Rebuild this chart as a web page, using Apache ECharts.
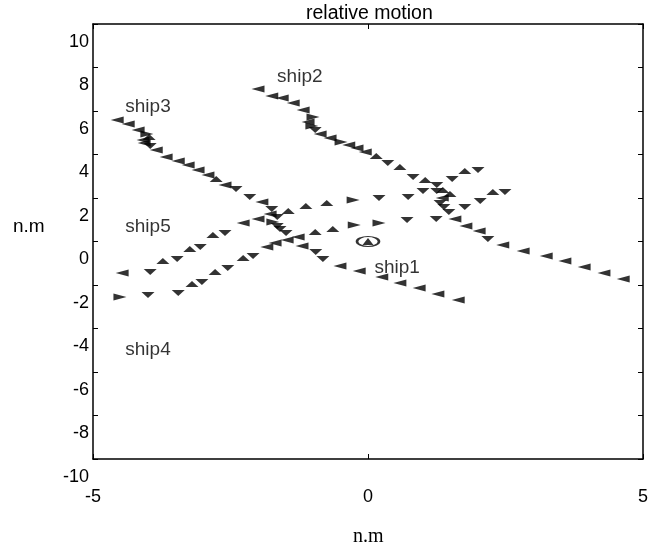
<!DOCTYPE html>
<html>
<head>
<meta charset="utf-8">
<script src="https://cdn.jsdelivr.net/npm/echarts@6/dist/echarts.min.js"></script>
<style>
  html, body { margin: 0; padding: 0; background: #fff; }
  #chart { width: 661px; height: 548px; }
</style>
</head>
<body>
<div id="chart"></div>
<script>
// Relative-motion plot: successive positions of each ship (n.m) with its heading
// (degrees: 0 = up, 90 = right, 180 = down, 270 = left).

const ship2X = [-2.00,-1.75,-1.56,-1.36,-1.18,-1.00,-1.09,-1.02,-0.96,-0.87,-0.69,-0.49,-0.35,-0.20,-0.05,0.15,0.36,0.58,0.82,1.04,1.25,1.36,1.49,1.35,1.31,1.38,1.47,1.58,1.78,2.02,2.18,2.45,2.82,3.24,3.58,3.93,4.29,4.64];
const ship2Y = [7.01,6.69,6.60,6.37,6.05,5.72,5.49,5.31,5.13,4.94,4.76,4.57,4.44,4.30,4.12,3.93,3.61,3.43,2.97,2.83,2.60,2.37,2.18,2.00,1.77,1.59,1.36,1.03,0.71,0.48,0.11,-0.16,-0.44,-0.67,-0.90,-1.17,-1.45,-1.72];
const ship2Hdg = [270,270,270,270,270,90,270,90,180,270,270,90,270,270,270,0,180,0,180,0,180,0,0,270,180,180,180,270,270,270,180,270,270,270,270,270,270,270];

const ship3X = [-4.56,-4.36,-4.18,-4.02,-3.98,-4.09,-4.07,-3.96,-3.85,-3.67,-3.45,-3.27,-3.09,-2.91,-2.76,-2.60,-2.40,-2.15,-1.93,-1.75,-1.45,-1.65,-1.73,-1.65,-1.60,-1.49,-1.20,-0.95,-0.82,-0.51,-0.16,0.25,0.58,0.93,1.27,1.64];
const ship3Y = [5.59,5.40,5.13,4.94,4.80,4.67,4.53,4.39,4.21,3.89,3.70,3.52,3.29,3.06,2.87,2.60,2.41,2.05,1.82,1.49,1.40,1.13,0.90,0.71,0.57,0.39,-0.21,-0.48,-0.80,-1.13,-1.36,-1.63,-1.91,-2.14,-2.41,-2.69];
const ship3Hdg = [270,270,270,90,0,270,270,180,270,270,270,270,270,270,0,270,180,180,270,180,0,180,90,180,180,180,270,180,180,270,270,270,270,270,270,270];

const ship5X = [-4.47,-3.96,-3.73,-3.47,-3.24,-3.05,-2.82,-2.60,-2.27,-2.00,-1.78,-1.13,-0.75,-0.27,0.20,0.73,1.00,1.25,1.53,1.76,2.00];
const ship5Y = [-1.45,-1.40,-0.90,-0.80,-0.34,-0.25,0.30,0.39,0.85,1.03,1.26,1.63,1.77,1.91,2.00,2.05,2.32,2.32,2.87,3.24,3.29];
const ship5Hdg = [270,180,0,180,0,180,0,180,270,270,270,0,0,90,180,180,180,180,180,0,180];

const ship4X = [-4.51,-4.00,-3.45,-3.20,-3.02,-2.78,-2.55,-2.27,-2.09,-1.84,-1.69,-1.47,-1.27,-0.96,-0.64,-0.25,0.20,0.71,1.24,1.76,2.04,2.27,2.49];
const ship4Y = [-2.55,-2.46,-2.37,-1.95,-1.86,-1.40,-1.22,-0.76,-0.67,-0.25,-0.07,0.07,0.21,0.44,0.57,0.76,0.85,0.99,1.03,1.59,1.86,2.28,2.28];
const ship4Hdg = [90,180,180,0,180,0,180,0,180,270,270,270,270,0,0,90,90,180,180,180,180,0,180];

// own ship at the origin
const ship1X = [0];
const ship1Y = [0];

const labelNames = ['ship1', 'ship2', 'ship3', 'ship5', 'ship4'];
const labelX = [0.53, -1.24, -4.00, -4.00, -4.00];
const labelY = [-1.22, 7.56, 6.18, 0.67, -4.99];

const xTicks = [-5, 0, 5];
const yTicks = [-10, -8, -6, -4, -2, 0, 2, 4, 6, 8, 10];

// heading -> arrow-head glyph (flattened triangles)
const GLYPH = {
  0:   { path: 'path://M5,0L10,10L0,10Z', size: [13, 6] },
  180: { path: 'path://M0,0L10,0L5,10Z', size: [13, 6] },
  270: { path: 'path://M0,5L10,0L10,10Z', size: [13, 7] },
  90:  { path: 'path://M10,5L0,0L0,10Z', size: [13, 7] }
};

function track(name, xs, ys, hdg) {
  return {
    name: name,
    type: 'scatter',
    xAxisIndex: 0, yAxisIndex: 0,
    data: xs.map((x, i) => ({
      value: [x, ys[i]],
      symbol: GLYPH[hdg[i]].path,
      symbolSize: GLYPH[hdg[i]].size
    })),
    itemStyle: { color: '#000' },
    silent: true,
    z: 3
  };
}

const FONT = '"Liberation Sans", Arial, sans-serif';

const chart = echarts.init(document.getElementById('chart'), null, { renderer: 'canvas' });

chart.setOption({
  animation: false,
  backgroundColor: '#fff',
  title: {
    text: 'relative motion',
    left: 306, top: 4, padding: 0,
    textStyle: { fontFamily: FONT, fontSize: 19.5, fontWeight: 'normal', color: '#000' }
  },
  grid: { left: 93, right: 18, top: 24, bottom: 89, containLabel: false },
  xAxis: [
    {
      type: 'value', min: xTicks[0], max: xTicks[xTicks.length - 1], interval: 5,
      position: 'bottom',
      axisLine: { show: true, onZero: false, lineStyle: { color: '#000', width: 1.5 } },
      axisTick: { show: true, inside: true, length: 5, lineStyle: { color: '#000' } },
      axisLabel: { show: true, margin: 29, fontFamily: FONT, fontSize: 18, color: '#000' },
      splitLine: { show: false }
    },
    {
      type: 'value', min: xTicks[0], max: xTicks[xTicks.length - 1], interval: 5,
      position: 'top',
      axisLine: { show: true, onZero: false, lineStyle: { color: '#000', width: 1.5 } },
      axisTick: { show: true, inside: true, length: 5, lineStyle: { color: '#000' } },
      axisLabel: { show: false },
      splitLine: { show: false }
    }
  ],
  yAxis: [
    {
      type: 'value', min: yTicks[0], max: yTicks[yTicks.length - 1], interval: 2,
      position: 'left',
      axisLine: { show: true, onZero: false, lineStyle: { color: '#000', width: 1.5 } },
      axisTick: { show: true, inside: true, length: 5, lineStyle: { color: '#000' } },
      axisLabel: {
        show: true, margin: 4, fontFamily: FONT, fontSize: 18, color: '#000',
        verticalAlign: 'top', lineHeight: 18, padding: [9, 0, 0, 0]
      },
      splitLine: { show: false }
    },
    {
      type: 'value', min: yTicks[0], max: yTicks[yTicks.length - 1], interval: 2,
      position: 'right',
      axisLine: { show: true, onZero: false, lineStyle: { color: '#000', width: 1.5 } },
      axisTick: { show: true, inside: true, length: 5, lineStyle: { color: '#000' } },
      axisLabel: { show: false },
      splitLine: { show: false }
    }
  ],
  graphic: [
    {
      type: 'text', left: 13, top: 217,
      style: { text: 'n.m', font: '19px ' + FONT, fill: '#000' }
    },
    {
      type: 'text', left: 353, top: 527,
      style: { text: 'n.m', font: '20px "Liberation Serif", "Times New Roman", serif', fill: '#000' }
    }
  ],
  series: [
    track('ship2', ship2X, ship2Y, ship2Hdg),
    track('ship3', ship3X, ship3Y, ship3Hdg),
    track('ship5', ship5X, ship5Y, ship5Hdg),
    track('ship4', ship4X, ship4Y, ship4Hdg),
    {
      name: 'ship1 ring', type: 'scatter', silent: true, z: 3,
      data: ship1X.map((x, i) => [x, ship1Y[i]]),
      symbol: 'circle', symbolSize: [22, 10],
      itemStyle: { color: 'transparent', borderColor: '#000', borderWidth: 1.8 }
    },
    {
      name: 'ship1', type: 'scatter', silent: true, z: 4,
      data: ship1X.map((x, i) => [x, ship1Y[i]]),
      symbol: 'path://M5,0L10,10L0,10Z', symbolSize: [11, 7],
      itemStyle: { color: '#000' }
    },
    {
      name: 'labels', type: 'scatter', silent: true, z: 5,
      symbolSize: 0,
      data: labelNames.map((n, i) => ({ name: n, value: [labelX[i], labelY[i]] })),
      label: {
        show: true, position: 'inside', formatter: p => p.name,
        fontFamily: FONT, fontSize: 19, color: '#000'
      }
    }
  ]
});
</script>
</body>
</html>
